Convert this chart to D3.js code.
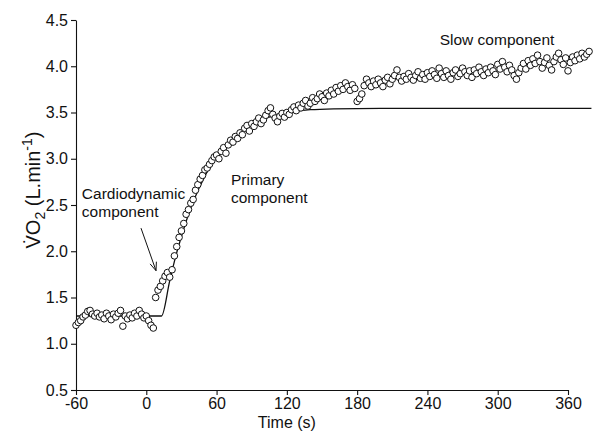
<!DOCTYPE html>
<html><head><meta charset="utf-8">
<script src="https://cdn.jsdelivr.net/npm/d3@7"></script>
<style>body{margin:0;background:#fff}svg{display:block}text{font-family:"Liberation Sans",Arial,sans-serif;fill:#111}</style>
</head><body>
<svg id="c" width="607" height="439"></svg>
<script>
// breath-by-breath VO2 (L/min), one value every timeStep seconds starting at timeStart
const timeStart = -60;
const timeStep = 2;
const vo2Values = [
 1.20,1.23,1.25,1.29,1.31,1.35,1.36,1.32,1.30,1.33,1.29,1.31,1.27,1.33,1.30,1.26,1.32,1.29,1.33,1.36,
 1.19,1.30,1.27,1.31,1.28,1.33,1.30,1.36,1.32,1.28,
 1.30,1.25,1.20,1.17,1.50,1.58,1.62,1.68,1.73,1.77,1.72,1.80,1.95,2.05,2.15,2.22,2.30,2.40,2.45,2.52,
 2.56,2.66,2.72,2.78,2.82,2.88,2.90,2.94,2.98,3.02,3.04,3.00,3.08,3.12,3.06,3.15,3.20,3.18,3.24,3.22,
 3.28,3.26,3.33,3.36,3.30,3.38,3.35,3.40,3.44,3.38,3.42,3.47,3.52,3.55,3.48,3.44,3.40,3.46,3.49,3.45,
 3.50,3.48,3.53,3.56,3.52,3.58,3.55,3.60,3.63,3.57,3.60,3.66,3.62,3.65,3.70,3.67,3.63,3.71,3.68,3.74,
 3.70,3.77,3.73,3.79,3.75,3.82,3.78,3.74,3.80,3.76,3.62,3.65,3.70,3.79,3.86,3.82,3.78,3.84,3.80,3.86,
 3.82,3.78,3.85,3.88,3.81,3.86,3.90,3.96,3.88,3.84,3.89,3.86,3.92,3.88,3.85,3.90,3.94,3.87,3.91,3.86,
 3.93,3.89,3.95,3.91,3.87,3.98,3.92,3.88,3.95,3.90,3.86,3.93,3.96,3.89,3.92,3.98,3.94,3.90,3.95,3.88,
 3.96,3.92,3.99,3.94,3.90,3.97,3.93,3.99,3.95,3.91,4.02,3.97,4.05,3.99,3.94,4.01,3.96,3.90,3.86,3.93,
 3.98,4.03,3.97,4.06,4.01,4.08,4.03,4.12,4.05,3.98,4.04,4.09,4.01,3.96,4.05,4.10,4.14,4.07,4.02,4.09,
 3.95,4.04,4.10,4.06,4.12,4.08,4.14,4.10,4.13,4.16
];
// model fit: [time s, VO2]
const fitTimes  = [-60, 13, 20, 25, 30, 35, 40, 45, 50, 55, 60, 70, 80, 90, 100, 110, 120, 140, 160, 200, 380];
const fitValues = [1.30,1.30,1.68,1.94,2.16,2.36,2.53,2.68,2.81,2.93,3.03,3.18,3.29,3.37,3.43,3.47,3.50,3.53,3.54,3.545,3.545];
const xTicks = [-60, 0, 60, 120, 180, 240, 300, 360];
const yTicks = [0.5, 1.0, 1.5, 2.0, 2.5, 3.0, 3.5, 4.0, 4.5];
const annotations = [
  {lines: ["Cardiodynamic", "component"], t: -55, v: 2.565},
  {lines: ["Primary", "component"], t: 72.3, v: 2.72},
  {lines: ["Slow component"], t: 250.5, v: 4.23}
];
const arrowFrom = [-4.5, 2.25], arrowTo = [8.3, 1.79];

const svg = d3.select("#c");
const x = d3.scaleLinear().domain([-60, 360]).range([76, 568]);
const y = d3.scaleLinear().domain([0.5, 4.5]).range([390, 20]);

const fmt = d3.format(".1f");
const gx = svg.append("g").attr("transform", "translate(0,390)")
  .call(d3.axisBottom(x).tickValues(xTicks).tickFormat(d => String(d)).tickSize(5).tickSizeOuter(0).tickPadding(3));
const gy = svg.append("g").attr("transform", "translate(76,0)")
  .call(d3.axisLeft(y).tickValues(yTicks).tickFormat(fmt).tickSize(5).tickSizeOuter(0).tickPadding(3));
[gx, gy].forEach(g => {
  g.attr("font-family", null);
  g.selectAll("path,line").attr("stroke", "#111").attr("stroke-width", 1.1);
  g.selectAll("text").style("font-size", "16px").attr("fill", "#111");
});

svg.append("text").attr("x", x(120)).attr("y", 428).attr("text-anchor", "middle")
  .style("font-size", "16px").text("Time (s)");

const yl = svg.append("text").attr("transform", "translate(40,190) rotate(-90)")
  .attr("text-anchor", "middle").style("font-size", "20px");
yl.append("tspan").text("V\u0307O");
yl.append("tspan").attr("dy", 5).style("font-size", "14px").text("2");
yl.append("tspan").attr("dy", -5).text(" (L.min");
yl.append("tspan").attr("dy", -8).style("font-size", "14px").text("-1");
yl.append("tspan").attr("dy", 8).text(")");

const fit = fitTimes.map((t, i) => [t, fitValues[i]]);
svg.append("path").datum(fit)
  .attr("d", d3.line().x(d => x(d[0])).y(d => y(d[1])).curve(d3.curveMonotoneX))
  .attr("fill", "none").attr("stroke", "#111").attr("stroke-width", 1.3);

const data = vo2Values.map((v, i) => ({t: timeStart + i * timeStep, v}));
svg.append("g").selectAll("circle").data(data).join("circle")
  .attr("cx", d => x(d.t)).attr("cy", d => y(d.v)).attr("r", 3.3)
  .attr("fill", "#fff").attr("stroke", "#111").attr("stroke-width", 1);

annotations.forEach(a => {
  const tx = svg.append("text").attr("x", x(a.t)).attr("y", y(a.v)).style("font-size", "15.5px");
  a.lines.forEach((l, i) => tx.append("tspan").attr("x", x(a.t)).attr("dy", i ? 18 : 0).text(l));
});

// arrow
const ax0 = x(arrowFrom[0]), ay0 = y(arrowFrom[1]), ax1 = x(arrowTo[0]), ay1 = y(arrowTo[1]);
svg.append("line").attr("x1", ax0).attr("y1", ay0).attr("x2", ax1).attr("y2", ay1)
  .attr("stroke", "#111").attr("stroke-width", 1);
const ang = Math.atan2(ay1 - ay0, ax1 - ax0), hl = 9, ha = 0.38;
svg.append("path").attr("d",
  `M${ax1 - hl*Math.cos(ang-ha)},${ay1 - hl*Math.sin(ang-ha)}L${ax1},${ay1}L${ax1 - hl*Math.cos(ang+ha)},${ay1 - hl*Math.sin(ang+ha)}`)
  .attr("fill", "none").attr("stroke", "#111").attr("stroke-width", 1);
</script>
</body></html>
